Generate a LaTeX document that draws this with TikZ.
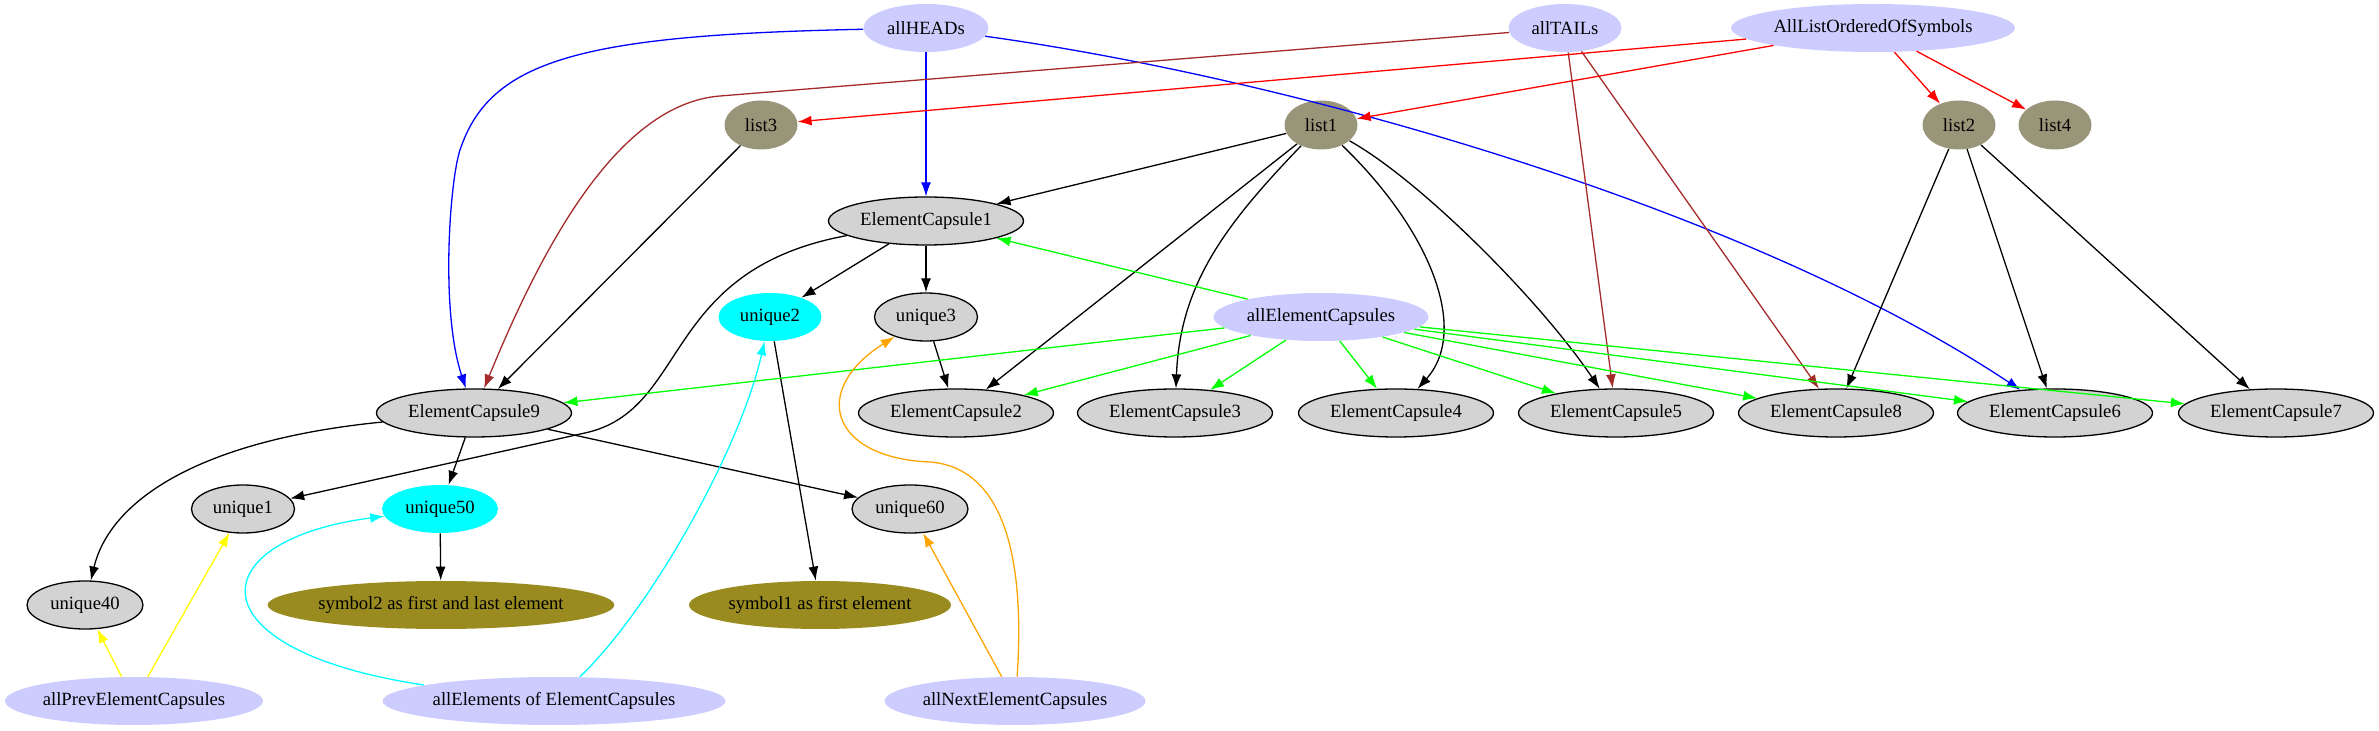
\documentclass[tikz,border=0pt]{standalone}
\usepackage{fontspec}
\setmainfont{Liberation Serif}
\usetikzlibrary{shapes.geometric,arrows.meta}
\definecolor{rootblue}{HTML}{CCCCFF}
\definecolor{capsulegray}{HTML}{D3D3D3}
\definecolor{listgray}{RGB}{153,149,121}
\definecolor{symolive}{RGB}{153,139,31}
\definecolor{hicyan}{RGB}{0,255,255}
\definecolor{headblue}{RGB}{0,0,255}
\definecolor{listred}{RGB}{255,0,0}
\definecolor{capgreen}{RGB}{0,255,0}
\definecolor{prevyellow}{RGB}{255,255,0}
\definecolor{tailbrown}{HTML}{A52A2A}
\definecolor{nextorange}{HTML}{FFA500}

\begin{document}
\begin{tikzpicture}[
        x=0.5pt, y=-0.5pt,
        font=\fontsize{9.33}{11}\selectfont,
        oval/.style={ellipse, inner sep=0pt, minimum height=24pt},
        capsule/.style={oval, draw, line width=0.65pt, fill=capsulegray, minimum width=97.5pt},
        uniq/.style={oval, draw, line width=0.65pt, fill=capsulegray, minimum width=51.5pt},
        hilite/.style={oval, fill=hicyan, minimum width=51.5pt},
        root/.style={oval, fill=rootblue},
        listnode/.style={oval, fill=listgray, minimum width=36.5pt, minimum height=24.5pt},
        symbolnode/.style={oval, fill=symolive},
        link/.style={draw, line width=0.65pt, -{Latex[length=7pt,width=5pt]}}
    ]
    \useasboundingbox (0,0) rectangle (2379,731);

    \node[root, minimum width=62.5pt] (heads) at (926,28) {allHEADs};
    \node[root, minimum width=56.5pt] (tails) at (1565,28) {allTAILs};
    \node[root, minimum width=142pt] (lists) at (1873,28) {AllListOrderedOfSymbols};

    \node[listnode] (list3) at (761,125) {list3};
    \node[listnode] (list1) at (1321,125) {list1};
    \node[listnode] (list2) at (1959,125) {list2};
    \node[listnode] (list4) at (2055,125) {list4};

    \node[capsule] (ec1) at (926,221) {ElementCapsule1};

    \node[hilite] (u2) at (770,317) {unique2};
    \node[uniq] (u3) at (926,317) {unique3};
    \node[root, minimum width=107.5pt] (allEC) at (1321,317) {allElementCapsules};

    \node[capsule] (ec9) at (474,413) {ElementCapsule9};
    \node[capsule] (ec2) at (956,413) {ElementCapsule2};
    \node[capsule] (ec3) at (1175,413) {ElementCapsule3};
    \node[capsule] (ec4) at (1396,413) {ElementCapsule4};
    \node[capsule] (ec5) at (1616,413) {ElementCapsule5};
    \node[capsule] (ec8) at (1836,413) {ElementCapsule8};
    \node[capsule] (ec6) at (2055,413) {ElementCapsule6};
    \node[capsule] (ec7) at (2276,413) {ElementCapsule7};

    \node[uniq] (u1) at (243,509) {unique1};
    \node[hilite, minimum width=58pt] (u50) at (440,509) {unique50};
    \node[uniq, minimum width=58pt] (u60) at (910,509) {unique60};

    \node[uniq, minimum width=58pt] (u40) at (85,605) {unique40};
    \node[symbolnode, minimum width=171.5pt] (sym2) at (441,605) {symbol2 as first and last element};
    \node[symbolnode, minimum width=131pt] (sym1) at (820,605) {symbol1 as first element};

    \node[root, minimum width=129pt] (prev) at (134,701) {allPrevElementCapsules};
    \node[root, minimum width=168.5pt] (elems) at (554,701) {allElements of ElementCapsules};
    \node[root, minimum width=130pt] (next) at (1015,701) {allNextElementCapsules};

    \draw[link, headblue] (heads) -- (ec1);
    \draw[link, headblue] (heads) .. controls (580,35) and (490,60) .. (460,150)
        .. controls (450,180) and (440,310) .. (ec9);
    \draw[link, headblue] (heads) .. controls (1300,80) and (1750,210) .. (ec6);

    \draw[link, tailbrown] (tails) -- (720,96) .. controls (620,104) and (545,240) .. (ec9);
    \draw[link, tailbrown] (tails) -- (ec5);
    \draw[link, tailbrown] (tails) -- (ec8);

    \draw[link, listred] (lists) -- (list3);
    \draw[link, listred] (lists) -- (list1);
    \draw[link, listred] (lists) -- (list2);
    \draw[link, listred] (lists) -- (list4);

    \draw[link] (list3) -- (ec9);
    \draw[link] (list1) -- (ec1);
    \draw[link] (list1) -- (ec2);
    \draw[link] (list1) .. controls (1227,223) and (1180,283) .. (ec3);
    \draw[link] (list1) .. controls (1430,230) and (1470,330) .. (ec4);
    \draw[link] (list1) .. controls (1420,180) and (1540,300) .. (ec5);
    \draw[link] (list2) -- (ec8);
    \draw[link] (list2) -- (ec6);
    \draw[link] (list2) -- (ec7);

    \draw[link] (ec1) -- (u2);
    \draw[link] (ec1) -- (u3);
    \draw[link] (ec1) .. controls (660,270) and (690,410) .. (585,433) -- (u1);
    \draw[link] (u3) -- (ec2);
    \draw[link] (u2) -- (sym1);

    \draw[link] (ec9) .. controls (200,440) and (110,500) .. (u40);
    \draw[link] (ec9) -- (u50);
    \draw[link] (ec9) -- (u60);
    \draw[link] (u50) -- (sym2);

    \draw[link, capgreen] (allEC) -- (ec1);
    \draw[link, capgreen] (allEC) -- (ec9);
    \draw[link, capgreen] (allEC) -- (ec2);
    \draw[link, capgreen] (allEC) -- (ec3);
    \draw[link, capgreen] (allEC) -- (ec4);
    \draw[link, capgreen] (allEC) -- (ec5);
    \draw[link, capgreen] (allEC) -- (ec8);
    \draw[link, capgreen] (allEC) -- (ec6);
    \draw[link, capgreen] (allEC) -- (ec7);

    \draw[link, prevyellow] (prev) -- (u40);
    \draw[link, prevyellow] (prev) -- (u1);

    \draw[link, hicyan] (elems.173) .. controls (190,650) and (200,540) .. (u50);
    \draw[link, hicyan] (elems.43) .. controls (650,610) and (740,450) .. (u2);

    \draw[link, nextorange] (next) -- (u60);
    \draw[link, nextorange] (next.85) .. controls (1025,560) and (1005,468) .. (930,462)
        .. controls (830,458) and (810,390) .. (u3);
\end{tikzpicture}
\end{document}
